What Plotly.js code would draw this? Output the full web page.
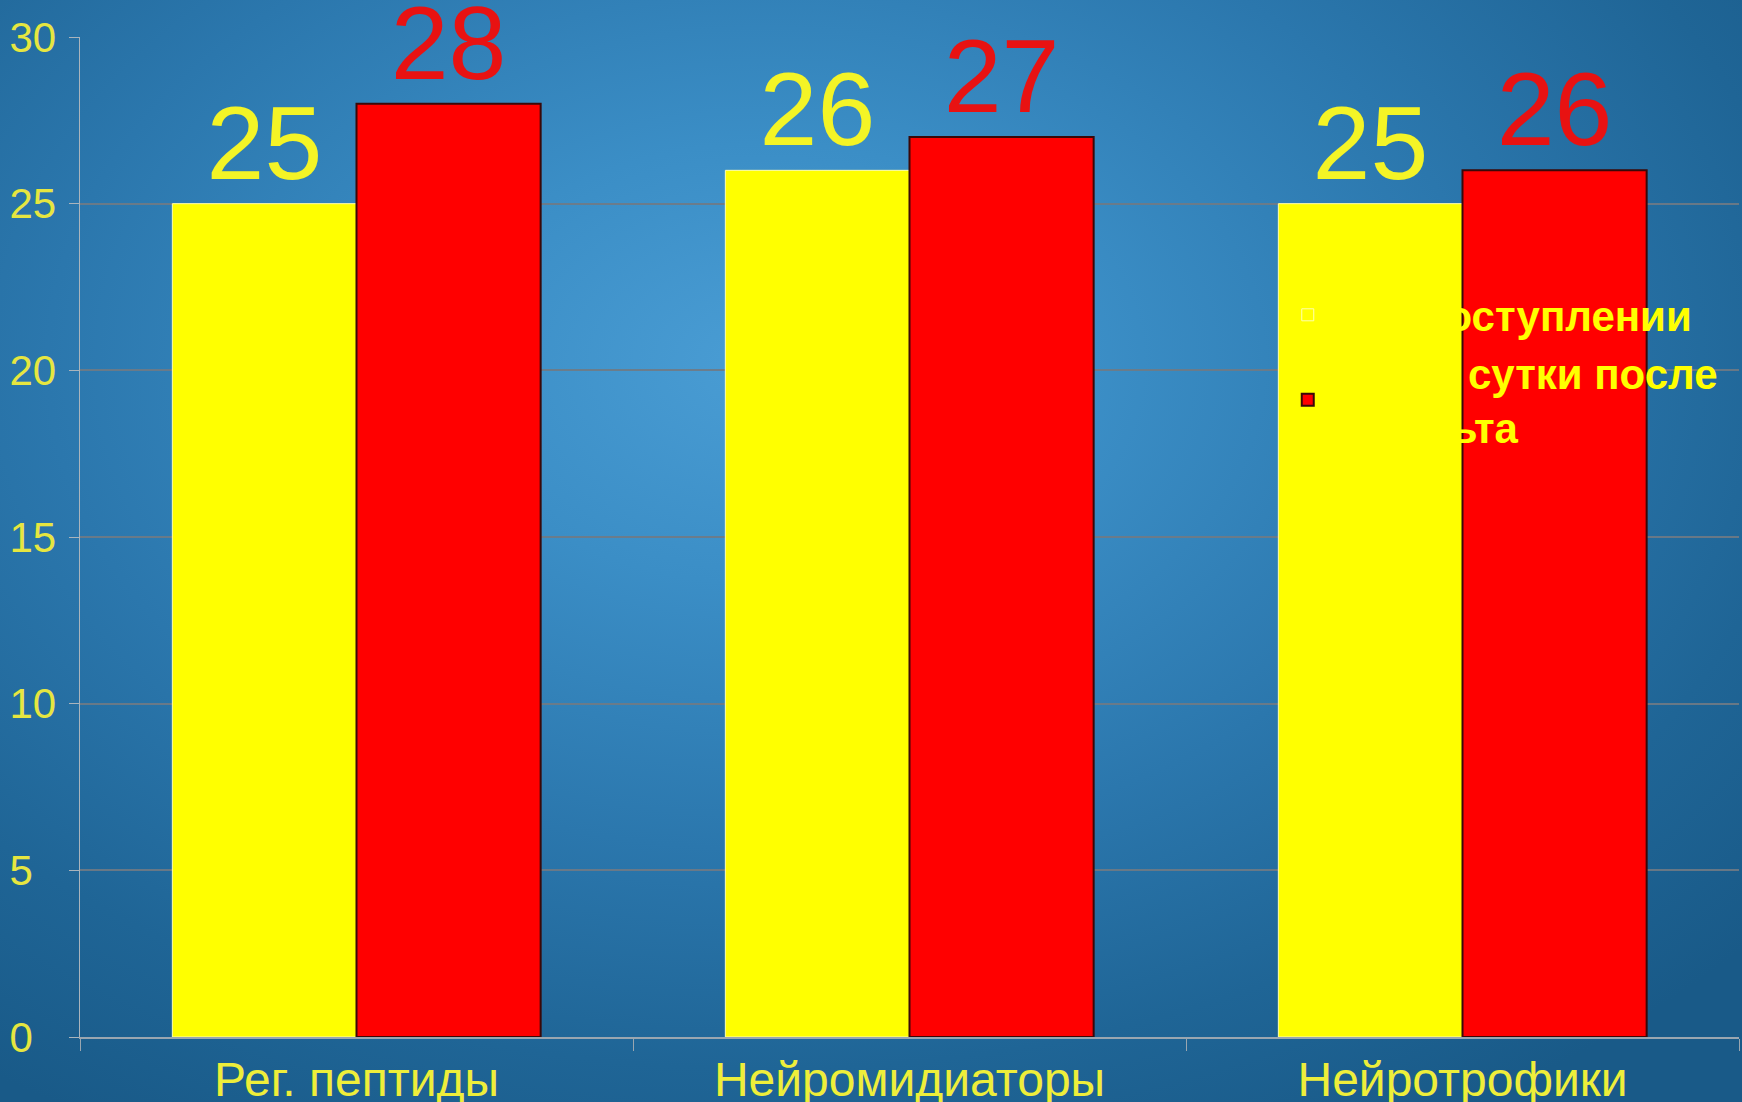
<!DOCTYPE html>
<html>
<head>
<meta charset="utf-8">
<script src="https://cdn.plot.ly/plotly-3.0.1.min.js"></script>
<style>
  html, body { margin: 0; padding: 0; }
  #chart {
    width: 1742px;
    height: 1102px;
    background: radial-gradient(ellipse 75% 80% at 44% 33%, #4a9dd4 0%, #3b8ec6 25%, #2b77ad 55%, #1f6596 80%, #195a88 100%);
  }
</style>
</head>
<body>
<div id="chart"></div>
<script>
// Categories and the two series
const categories = ['Рег. пептиды', 'Нейромидиаторы', 'Нейротрофики'];
const seriesNames = ['При поступлении', 'На 3-и сутки после<br>инсульта'];
const onAdmission = [25, 26, 25];
const afterStroke = [28, 27, 26];
const yTicks = [0, 5, 10, 15, 20, 25, 30];

const textFont = 'Liberation Sans, Arial, sans-serif';

// left-aligned tick labels: pad one-digit values with a figure space
const yTickText = yTicks.map(v => (v < 10 ? v + '\u2007' : String(v)));

const traces = [
  {
    type: 'bar',
    name: seriesNames[0],
    x: categories,
    y: onAdmission,
    text: onAdmission.map(String),
    textposition: 'outside',
    cliponaxis: false,
    textfont: { family: textFont, size: 104, color: '#f4f426' },
    marker: { color: '#ffff00', line: { color: '#ffffb0', width: 1 } },
    hoverinfo: 'x+y'
  },
  {
    type: 'bar',
    name: seriesNames[1],
    x: categories,
    y: afterStroke,
    text: afterStroke.map(String),
    textposition: 'outside',
    cliponaxis: false,
    textfont: { family: textFont, size: 104, color: '#e81212' },
    marker: { color: '#ff0000', line: { color: '#3a0808', width: 2 } },
    hoverinfo: 'x+y'
  }
];

const layout = {
  width: 1742,
  height: 1102,
  margin: { l: 80, r: 3, t: 37, b: 65 },
  paper_bgcolor: 'rgba(0,0,0,0)',
  plot_bgcolor: 'rgba(0,0,0,0)',
  barmode: 'group',
  bargap: 0.334,
  bargroupgap: 0,
  showlegend: true,
  legend: {
    x: 0.728,
    y: 0.756,
    xanchor: 'left',
    yanchor: 'top',
    bgcolor: 'rgba(0,0,0,0)',
    font: { family: textFont, size: 42, color: '#ffff00', weight: 'bold' },
    tracegroupgap: 0
  },
  xaxis: {
    type: 'category',
    showgrid: false,
    showline: true,
    linecolor: '#9aa6b0',
    linewidth: 1.5,
    ticks: 'outside',
    tickson: 'boundaries',
    ticklen: 12,
    tickcolor: '#9aa6b0',
    tickfont: { family: textFont, size: 48, color: '#eeee3a' }
  },
  yaxis: {
    range: [0, 30],
    tickvals: yTicks,
    ticktext: yTickText,
    showgrid: true,
    gridcolor: 'rgba(112,122,132,0.9)',
    gridwidth: 2,
    zeroline: false,
    showline: true,
    linecolor: '#aab4bc',
    linewidth: 1.5,
    ticks: 'outside',
    ticklen: 10,
    tickcolor: '#aab4bc',
    ticklabelstandoff: 4,
    tickfont: { family: textFont, size: 42, color: '#e6e640' }
  }
};

Plotly.newPlot('chart', traces, layout, { displayModeBar: false, staticPlot: true });
</script>
</body>
</html>
